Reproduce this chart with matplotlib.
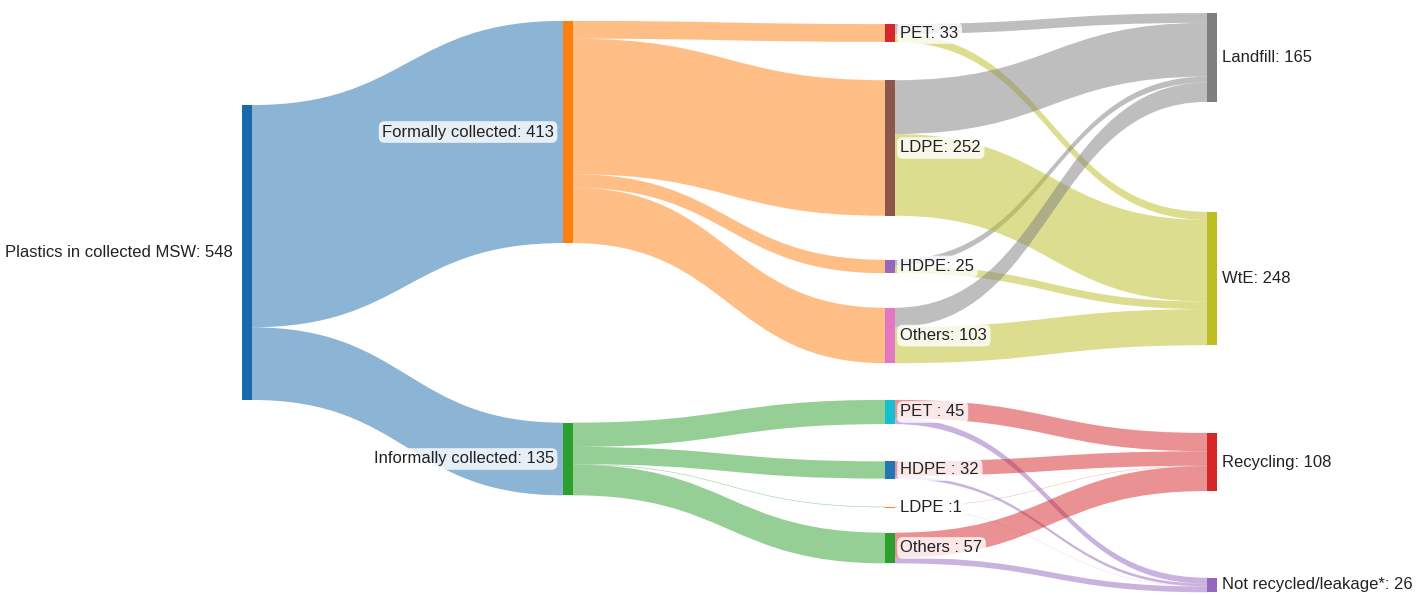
import matplotlib.pyplot as plt
from matplotlib.path import Path
from matplotlib.patches import PathPatch, Rectangle

# nodes
labels = ["Plastics in collected MSW: 548", "Formally collected: 413", "Informally collected: 135",
          "PET: 33", "HDPE: 25", "LDPE: 252", "Others: 103", "Landfill: 165", "WtE: 248",
          "PET : 45", "HDPE : 32", "LDPE :1", "Others : 57", "Recycling: 108",
          "Not recycled/leakage*: 26"]
node_colors = ["#1a6aab", "#ff7f0e", "#2ca02c", "#d62728", "#9467bd", "#8c564b", "#e377c2",
               "#7f7f7f", "#bcbd22", "#17becf", "#1f77b4", "#ff7f0e", "#2ca02c", "#d62728",
               "#9467bd"]

# links (source index, target index, value in kt)
link_src = [0, 0, 1, 1, 1, 1, 2, 2, 2, 2,
            3, 3, 4, 4, 5, 5, 6, 6,
            9, 9, 10, 10, 11, 11, 12, 12]
link_tgt = [1, 2, 3, 4, 5, 6, 9, 10, 11, 12,
            7, 8, 7, 8, 7, 8, 7, 8,
            13, 14, 13, 14, 13, 14, 13, 14]
link_val = [413, 135, 33, 25, 252, 103, 45, 32, 1, 57,
            18, 15, 11, 14, 100, 152, 36, 67,
            34, 11, 27, 5, 0.6, 0.4, 46.4, 10.6]

# layout (column per node, vertical centre of node in canvas pixels)
node_col = [0, 1, 1, 2, 2, 2, 2, 3, 3, 2, 2, 2, 2, 3, 3]
node_cy = [252.5, 132, 459, 33, 266.5, 148, 335.5, 57.5, 278.5, 412, 470, 507, 548, 462, 585]
col_x = [242, 563, 885, 1207]
node_w = 9.5
px_per_unit = 0.538
W, H = 1428, 595

n = len(labels)
v_in = [0.0] * n
v_out = [0.0] * n
for s, t, v in zip(link_src, link_tgt, link_val):
    v_out[s] += v
    v_in[t] += v
node_h = [max(a, b) * px_per_unit for a, b in zip(v_in, v_out)]
node_top = [c - h / 2 for c, h in zip(node_cy, node_h)]
node_x = [col_x[c] for c in node_col]

fig = plt.figure(figsize=(W / 100, H / 100), dpi=100)
ax = fig.add_axes([0, 0, 1, 1])
ax.set_xlim(0, W)
ax.set_ylim(H, 0)
ax.axis("off")

# offsets of links along each node, ordered by the other end's position
out_off = {}
in_off = {}
for i in range(n):
    outs = sorted([k for k in range(len(link_src)) if link_src[k] == i], key=lambda k: node_cy[link_tgt[k]])
    y = node_top[i]
    for k in outs:
        out_off[k] = y
        y += link_val[k] * px_per_unit
    ins = sorted([k for k in range(len(link_tgt)) if link_tgt[k] == i], key=lambda k: node_cy[link_src[k]])
    y = node_top[i]
    for k in ins:
        in_off[k] = y
        y += link_val[k] * px_per_unit

for k, (s, t, v) in enumerate(zip(link_src, link_tgt, link_val)):
    x0 = node_x[s] + node_w
    x1 = node_x[t]
    xm = (x0 + x1) / 2
    w = v * px_per_unit
    ys, yt = out_off[k], in_off[k]
    verts = [(x0, ys), (xm, ys), (xm, yt), (x1, yt),
             (x1, yt + w), (xm, yt + w), (xm, ys + w), (x0, ys + w), (x0, ys)]
    codes = [Path.MOVETO, Path.CURVE4, Path.CURVE4, Path.CURVE4,
             Path.LINETO, Path.CURVE4, Path.CURVE4, Path.CURVE4, Path.CLOSEPOLY]
    # first two stages take the colour of the source node, last stage of the target
    c = node_colors[t] if node_col[t] == 3 else node_colors[s]
    ax.add_patch(PathPatch(Path(verts, codes), facecolor=c, edgecolor="none", alpha=0.5, zorder=1))

for i in range(n):
    ax.add_patch(Rectangle((node_x[i], node_top[i]), node_w, max(node_h[i], 0.8),
                           facecolor=node_colors[i], edgecolor="none", zorder=2))
    if node_col[i] < 2:
        tx, ha = node_x[i] - 9, "right"
    else:
        tx, ha = node_x[i] + node_w + 6, "left"
    ax.text(tx, node_cy[i], labels[i], ha=ha, va="center", fontsize=12,
            family=["Liberation Sans", "DejaVu Sans"], color="#222222", zorder=3,
            bbox=dict(boxstyle="round,pad=0.2,rounding_size=0.35", facecolor="white",
                      edgecolor="none", alpha=0.8))

fig.savefig("out.png", dpi=100)
